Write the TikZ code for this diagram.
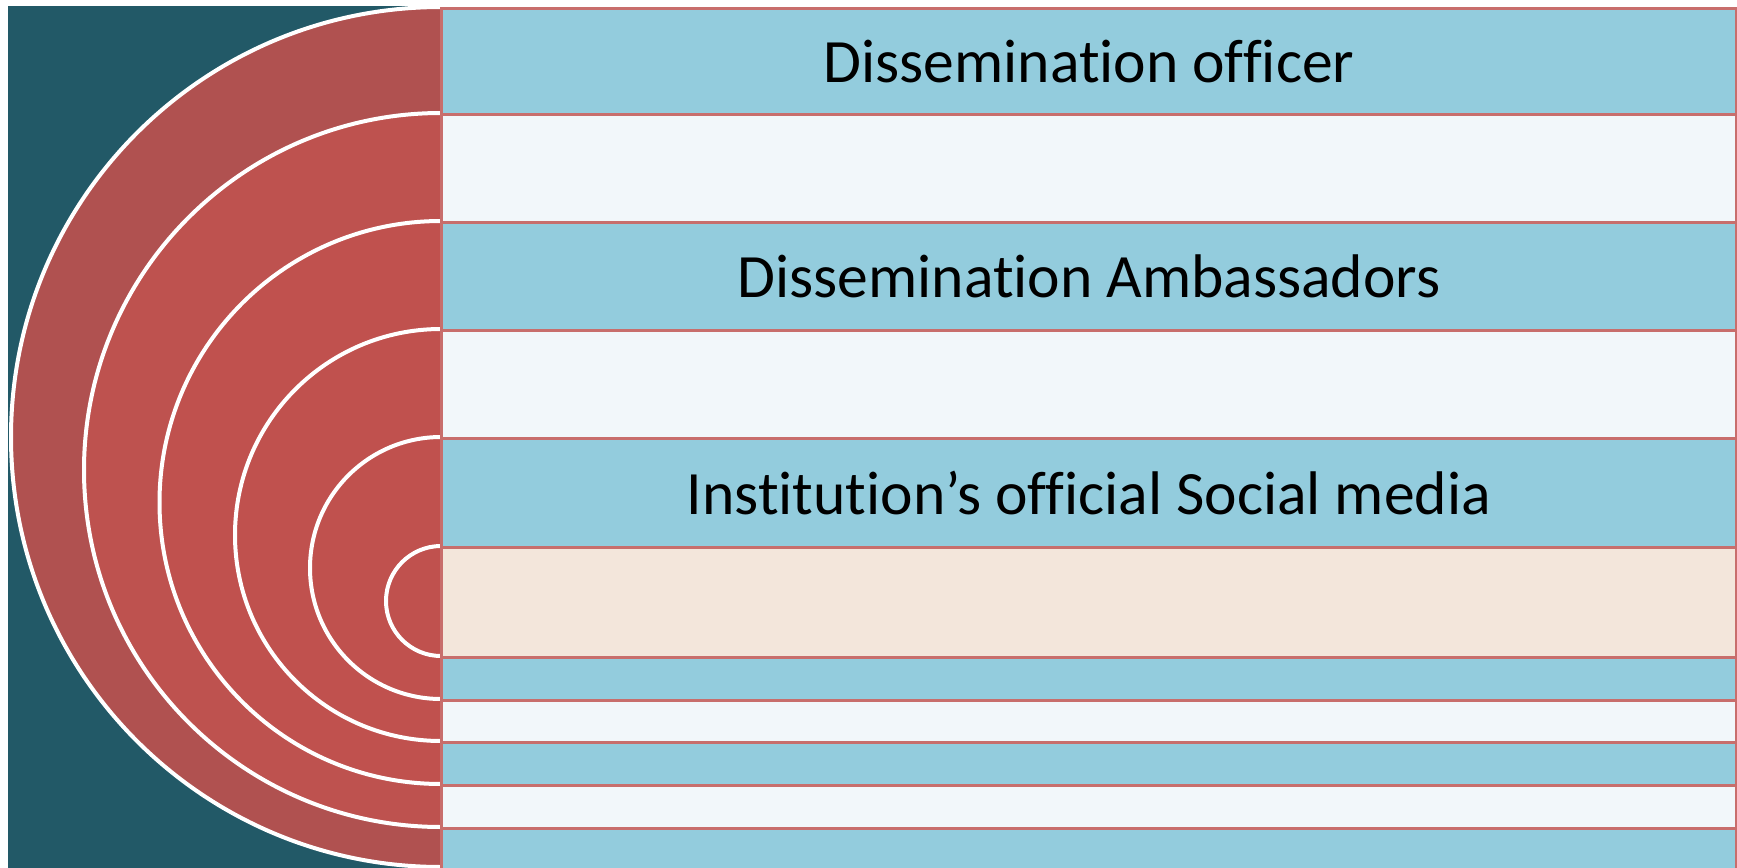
\documentclass[tikz,border=0pt]{standalone}
\usepackage{fontspec}
\setmainfont{Carlito}[Ligatures=NoCommon]
\definecolor{bgteal}{RGB}{34,89,103}
\definecolor{outerred}{RGB}{176,81,80}
\definecolor{ringred}{RGB}{190,82,79}
\definecolor{innerred}{RGB}{192,81,78}
\definecolor{rowblue}{RGB}{147,204,221}
\definecolor{rowlight}{RGB}{242,247,250}
\definecolor{rowbeige}{RGB}{243,230,219}
\definecolor{rowborder}{RGB}{200,110,108}
\tikzset{
  rowbox/.style={draw=rowborder, line width=1.5pt, anchor=north west, inner sep=0pt,
    minimum width=647.5pt, font=\fontsize{30.8}{36}\selectfont, text=black},
  ring/.style={draw=white, line width=2pt}
}
\begin{document}
\begin{tikzpicture}[x=0.5pt,y=-0.5pt]
\useasboundingbox (0,0) rectangle (1737,868);
% background
\fill[bgteal] (8,6) rectangle (441,868);
% half discs
\filldraw[ring, fill=outerred] (441,7) arc[start angle=270, end angle=90, radius=430];
\filldraw[ring, fill=ringred] (441,113) arc[start angle=270, end angle=90, radius=357];
\filldraw[ring, fill=innerred] (441,221) arc[start angle=270, end angle=90, radius=281.5];
\filldraw[ring, fill=innerred] (441,329) arc[start angle=270, end angle=90, radius=206];
\filldraw[ring, fill=innerred] (441,437) arc[start angle=270, end angle=90, radius=131];
\filldraw[ring, fill=innerred] (441,546) arc[start angle=270, end angle=90, radius=55];
% rows
\node[rowbox, fill=rowblue,  minimum height=53pt]   (r1)  at (440,7)   {Dissemination officer};
\node[rowbox, fill=rowlight, minimum height=54pt]   (r2)  at (440,113) {};
\node[rowbox, fill=rowblue,  minimum height=54pt]   (r3)  at (440,221) {Dissemination Ambassadors};
\node[rowbox, fill=rowlight, minimum height=54pt]   (r4)  at (440,329) {};
\node[rowbox, fill=rowblue,  minimum height=54.5pt] (r5)  at (440,437) {Institution’s official Social media};
\node[rowbox, fill=rowbeige, minimum height=55pt]   (r6)  at (440,546) {};
\node[rowbox, fill=rowblue,  minimum height=21.5pt] (r7)  at (440,656) {};
\node[rowbox, fill=rowlight, minimum height=21pt]   (r8)  at (440,699) {};
\node[rowbox, fill=rowblue,  minimum height=21.5pt] (r9)  at (440,741) {};
\node[rowbox, fill=rowlight, minimum height=21.5pt] (r10) at (440,784) {};
\node[rowbox, fill=rowblue,  minimum height=30pt]   (r11) at (440,827) {};
\end{tikzpicture}
\end{document}
